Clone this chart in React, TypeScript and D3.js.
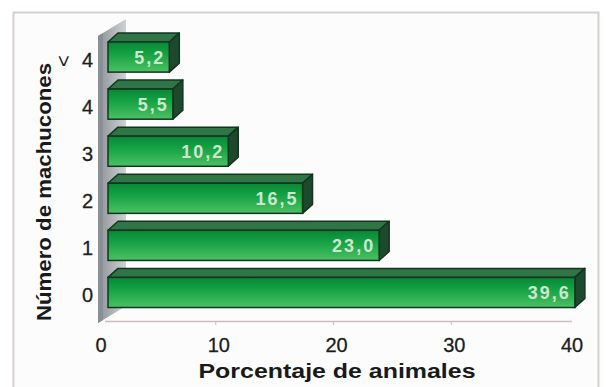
import React from "react";
import * as d3 from "d3";

const categories = ["> 4", "4", "3", "2", "1", "0"];
const values = [5.2, 5.5, 10.2, 16.5, 23.0, 39.6];
const valueLabels = ["5,2", "5,5", "10,2", "16,5", "23,0", "39,6"];
const xTicks = [0, 10, 20, 30, 40];
const xTitle = "Porcentaje de animales";
const yTitle = "Número de machucones";

const W = 606;
const H = 387;
const DX = 10;
const DY = 9;

export default function App() {
  const x = d3.scaleLinear().domain([0, 40]).range([108, 579.6]);
  const xAxis = d3.scaleLinear().domain([0, 40]).range([101, 572]);
  const y = d3
    .scaleBand<string>()
    .domain(categories)
    .range([33.5, 316])
    .paddingInner(0.36)
    .paddingOuter(0.18);
  const bw = y.bandwidth();
  const font = "'Liberation Sans', Arial, sans-serif";
  const tickFill = "#1e1e1e";

  return (
    <svg
      width={W}
      height={H}
      style={{ position: "absolute", left: 0, top: 0, display: "block" }}
    >
      <defs>
        <linearGradient id="front" x1="0" y1="0" x2="0" y2="1">
          <stop offset="0%" stopColor="#088736" />
          <stop offset="40%" stopColor="#15a244" />
          <stop offset="100%" stopColor="#4cc164" />
        </linearGradient>
        <linearGradient id="wall" x1="0" y1="0" x2="1" y2="0">
          <stop offset="0%" stopColor="#8d9298" />
          <stop offset="100%" stopColor="#cfd1d4" />
        </linearGradient>
      </defs>
      <rect x={0} y={0} width={W} height={H} fill="#ffffff" />
      <rect
        x={13.5}
        y={12.5}
        width={585}
        height={380}
        fill="#fcfcfc"
        stroke="#d8d0cd"
        strokeWidth={2}
      />
      {/* side wall */}
      <polygon points="98,36 126,19 126,306 98,323" fill="url(#wall)" />
      <polygon points="98,36 103,33 103,320 98,323" fill="#8a8f95" />
      {/* floor line */}
      <line
        x1={xAxis(0) + 4}
        x2={xAxis(40)}
        y1={321.5}
        y2={321.5}
        stroke="#c9bdbd"
        strokeWidth={1.5}
      />
      {xTicks.slice(1, -1).map((t) => (
        <line
          key={"t" + t}
          x1={xAxis(t) - 3}
          x2={xAxis(t) - 3}
          y1={321.5}
          y2={325}
          stroke="#c9bdbd"
          strokeWidth={1}
        />
      ))}
      {/* bars */}
      {categories.map((c, i) => {
        const y0 = y(c)!;
        const y1 = y0 + bw;
        const x0 = x(0);
        const x1 = x(values[i]);
        const top = `${x0},${y0} ${x0 + DX},${y0 - DY} ${x1 + DX},${y0 - DY} ${x1},${y0}`;
        const side = `${x1},${y0} ${x1 + DX},${y0 - DY} ${x1 + DX},${y1 - DY} ${x1},${y1}`;
        return (
          <g key={c}>
            <polygon
              points={top}
              fill="#2f7545"
              stroke="#123520"
              strokeWidth={1.5}
              strokeLinejoin="round"
            />
            <polygon
              points={side}
              fill="#1d4a2c"
              stroke="#123520"
              strokeWidth={1.5}
              strokeLinejoin="round"
            />
            <rect
              x={x0}
              y={y0}
              width={x1 - x0}
              height={bw}
              fill="url(#front)"
              stroke="#123520"
              strokeWidth={1.5}
            />
            <text
              x={x1 - 4}
              y={y0 + bw / 2 + 7}
              textAnchor="end"
              fontFamily={font}
              fontWeight="bold"
              fontSize={18}
              letterSpacing={2}
              fill="#cde6cd"
            >
              {valueLabels[i]}
            </text>
          </g>
        );
      })}
      {/* y tick labels */}
      {categories.map((c) => {
        const cy = y(c)! + bw / 2;
        if (c.startsWith(">")) {
          return (
            <g key={"yl" + c}>
              <text
                transform={`translate(${57},${cy + 4}) rotate(90)`}
                textAnchor="middle"
                fontFamily={font}
                fontSize={20}
                fill={tickFill}
              >
                {">"}
              </text>
              <text
                x={93}
                y={cy + 10}
                textAnchor="end"
                fontFamily={font}
                fontSize={20}
                fill={tickFill}
                stroke={tickFill}
                strokeWidth={0.3}
              >
                {c.replace(">", "").trim()}
              </text>
            </g>
          );
        }
        return (
          <text
            key={"yl" + c}
            x={93}
            y={cy + 10}
            textAnchor="end"
            fontFamily={font}
            fontSize={20}
            fill={tickFill}
            stroke={tickFill}
            strokeWidth={0.3}
          >
            {c}
          </text>
        );
      })}
      {/* x tick labels */}
      {xTicks.map((t) => (
        <text
          key={"xl" + t}
          x={xAxis(t)}
          y={352}
          textAnchor="middle"
          fontFamily={font}
          fontSize={20}
          fill={tickFill}
          stroke={tickFill}
          strokeWidth={0.3}
        >
          {t}
        </text>
      ))}
      <text
        x={337}
        y={378}
        textAnchor="middle"
        fontFamily={font}
        fontWeight="bold"
        fontSize={20}
        textLength={277}
        lengthAdjust="spacingAndGlyphs"
        fill="#1a1a1a"
      >
        {xTitle}
      </text>
      <text
        transform={`translate(51,192) rotate(-90)`}
        textAnchor="middle"
        fontFamily={font}
        fontWeight="bold"
        fontSize={21}
        textLength={258}
        lengthAdjust="spacingAndGlyphs"
        fill="#1a1a1a"
      >
        {yTitle}
      </text>
    </svg>
  );
}
